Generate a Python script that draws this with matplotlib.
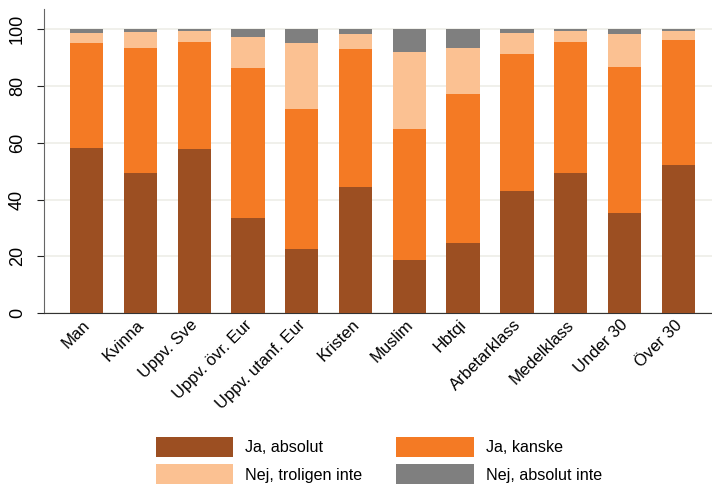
import numpy as np
import matplotlib.pyplot as plt
import matplotlib.transforms as mtransforms

plt.rcParams['font.family'] = ['Liberation Sans', 'DejaVu Sans']

groups = ['Man', 'Kvinna', 'Uppv. Sve', 'Uppv. övr. Eur', 'Uppv. utanf. Eur',
          'Kristen', 'Muslim', 'Hbtqi', 'Arbetarklass', 'Medelklass',
          'Under 30', 'Över 30']

# shares in percent, each group sums to 100
ja_absolut = [58.3, 49.4, 57.9, 33.6, 22.7, 44.5, 18.8, 24.8, 43.1, 49.4, 35.3, 52.2]
ja_kanske = [36.9, 44.0, 37.6, 52.8, 49.0, 48.6, 46.1, 52.4, 48.2, 46.1, 51.4, 44.0]
nej_troligen = [3.5, 5.7, 3.9, 10.9, 23.5, 5.3, 27.0, 16.1, 7.4, 3.9, 11.5, 3.2]
nej_absolut = [1.3, 0.9, 0.6, 2.7, 4.8, 1.6, 8.1, 6.7, 1.3, 0.6, 1.8, 0.6]

series = [
    ('Ja, absolut', ja_absolut, '#9c4f22'),
    ('Ja, kanske', ja_kanske, '#f47a24'),
    ('Nej, troligen inte', nej_troligen, '#fbc192'),
    ('Nej, absolut inte', nej_absolut, '#7f7f7f'),
]

fig = plt.figure(figsize=(7.12, 4.84), dpi=100)
ax = fig.add_axes([0.062, 0.353, 0.945, 0.628])

x = np.arange(len(groups))
bottom = np.zeros(len(groups))
bars = {}
for name, vals, color in series:
    bars[name] = ax.bar(x, vals, width=0.62, bottom=bottom, color=color,
                        label=name, zorder=3)
    bottom += np.array(vals)

ax.set_xlim(-0.79, 11.72)
ax.set_ylim(0, 107)
ax.set_yticks([0, 20, 40, 60, 80, 100])
ax.yaxis.grid(True, color='#eeeee8', linewidth=1.2, zorder=0)
ax.tick_params(axis='y', labelsize=13, length=5, color='#222222', pad=8)
for lab in ax.get_yticklabels():
    lab.set_rotation(90)
    lab.set_va('center')
ax.set_xticks(x)
ax.set_xticklabels(groups, rotation=45, ha='right', rotation_mode='anchor',
                   fontsize=12)
ax.tick_params(axis='x', length=0, pad=3)
shift = mtransforms.ScaledTranslation(-3 / 72, 0, fig.dpi_scale_trans)
for lab in ax.get_xticklabels():
    lab.set_transform(lab.get_transform() + shift)

for side in ['top', 'right']:
    ax.spines[side].set_visible(False)
ax.spines['left'].set_color('#666666')
ax.spines['bottom'].set_color('#333333')

order = ['Ja, absolut', 'Nej, troligen inte', 'Ja, kanske', 'Nej, absolut inte']
fig.legend([bars[n] for n in order], order, ncol=2, frameon=False,
           loc='upper center', bbox_to_anchor=(0.532, 0.128), fontsize=11.6,
           handlelength=4.8, handleheight=1.6, columnspacing=2.1,
           handletextpad=0.75, labelspacing=0.42)

plt.savefig('out.png', dpi=100)
